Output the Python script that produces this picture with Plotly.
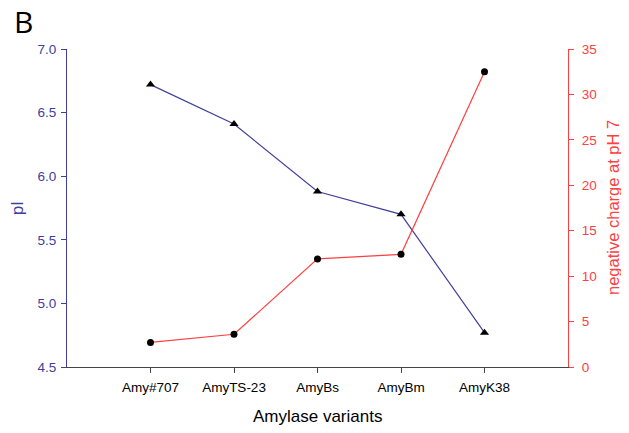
import plotly.graph_objects as go

variants = ["Amy#707", "AmyTS-23", "AmyBs", "AmyBm", "AmyK38"]
pI = [6.72, 6.41, 5.88, 5.70, 4.77]
neg_charge = [2.7, 3.6, 11.9, 12.4, 32.5]

BLUE = "#40409c"
RED = "#ff4040"

# browser default body margin is 8px; shrink the figure so it fills the window
W, H = 621, 425

fig = go.Figure()
fig.add_trace(go.Scatter(
    x=variants, y=pI, mode="lines+markers",
    line=dict(color=BLUE, width=1.2),
    marker=dict(symbol="triangle-up", size=8, color="black"),
    yaxis="y", showlegend=False, cliponaxis=False))
fig.add_trace(go.Scatter(
    x=variants, y=neg_charge, mode="lines+markers",
    line=dict(color=RED, width=1.2),
    marker=dict(symbol="circle", size=7, color="black"),
    yaxis="y2", showlegend=False, cliponaxis=False))

fig.update_layout(
    width=W, height=H,
    margin=dict(l=59, r=61, t=41, b=66, autoexpand=False),
    paper_bgcolor="white", plot_bgcolor="white",
    font=dict(family="Liberation Sans, Arial, sans-serif", size=13),
    title=dict(
        text="B", x=6 / W, xref="container", xanchor="left",
        y=1 - 14 / H, yref="container", yanchor="middle",
        font=dict(size=30, color="black", family="Open Sans, Liberation Sans, sans-serif"),
    ),
    xaxis=dict(
        type="category", range=[-1, 5],
        showline=True, linecolor="#444444", linewidth=1.2,
        ticks="outside", ticklen=5, tickcolor="#444444",
        showgrid=False, zeroline=False, ticklabelstandoff=3,
        tickfont=dict(size=13.5, color="black"),
    ),
    yaxis=dict(
        range=[4.5, 7.0], dtick=0.5, tickformat=".1f",
        showline=True, linecolor=BLUE, linewidth=1.2,
        ticks="outside", ticklen=5, tickcolor=BLUE,
        showgrid=False, zeroline=False, ticklabelstandoff=2,
        tickfont=dict(size=13.5, color=BLUE),
    ),
    yaxis2=dict(
        range=[0, 35], dtick=5, overlaying="y", side="right",
        showline=True, linecolor=RED, linewidth=1.2,
        ticks="outside", ticklen=5, tickcolor=RED,
        showgrid=False, zeroline=False, ticklabelstandoff=5,
        tickfont=dict(size=13.5, color=RED),
    ),
    annotations=[
        dict(text="Amylase variants", xref="paper", yref="paper", x=0.5, y=0,
             yshift=-49, xanchor="center", yanchor="middle", showarrow=False,
             font=dict(size=17, color="black")),
        dict(text="pI", xref="paper", yref="paper", x=0, y=0.5, xshift=-50,
             textangle=-90, xanchor="center", yanchor="middle", showarrow=False,
             font=dict(size=16.5, color=BLUE)),
        dict(text="negative charge at pH 7", xref="paper", yref="paper", x=1, y=0.5,
             xshift=45, textangle=-90, xanchor="center", yanchor="middle", showarrow=False,
             font=dict(size=16.5, color=RED)),
    ],
)
fig.write_html("out.html")
